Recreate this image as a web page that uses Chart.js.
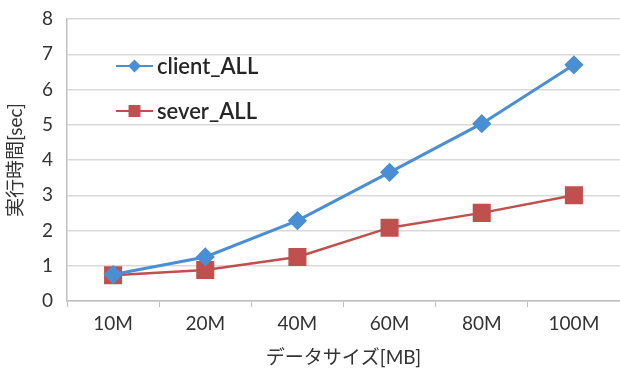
<!DOCTYPE html>
<html lang="ja">
<head>
  <meta charset="UTF-8">
  <title>実行時間</title>
  <script src="https://cdn.jsdelivr.net/npm/chart.js"></script>
  <style>
    html, body { margin: 0; padding: 0; background: #fff; overflow: hidden; }
    canvas { display: block; }
  </style>
</head>
<body>
  <canvas id="timeChart" width="620" height="373"></canvas>

  <script>
    // data
    const sizes = ['10M', '20M', '40M', '60M', '80M', '100M'];
    const clientAll = [0.75, 1.25, 2.28, 3.65, 5.03, 6.7];
    const severAll = [0.73, 0.88, 1.25, 2.08, 2.5, 3.0];
    const yTicks = [0, 1, 2, 3, 4, 5, 6, 7, 8];

    const labelFont = "Lato, 'Noto Sans CJK JP', sans-serif";
    const textColor = '#333333';

    // legend drawn inside the plot, like the Excel original
    const insideLegend = {
      id: 'insideLegend',
      afterDraw(chart) {
        const ctx = chart.ctx;
        chart.data.datasets.forEach((ds, i) => {
          const y = i === 0 ? 66 : 111;
          const x0 = 116, x1 = 153;
          ctx.save();
          ctx.strokeStyle = ds.borderColor;
          ctx.lineWidth = 2;
          ctx.beginPath();
          ctx.moveTo(x0, y);
          ctx.lineTo(x1, y);
          ctx.stroke();
          ctx.fillStyle = ds.backgroundColor;
          ctx.strokeStyle = ds.borderColor;
          Chart.helpers.drawPoint(ctx, {
            pointStyle: ds.pointStyle,
            radius: i === 0 ? 5 : 7,
            borderWidth: 1
          }, (x0 + x1) / 2, y);
          ctx.fillStyle = '#262626';
          ctx.font = "600 22px " + labelFont;
          ctx.textBaseline = 'middle';
          ctx.fillText(ds.label, x1 + 4, y + 1);
          ctx.restore();
        });
      }
    };

    const ctx = document.getElementById('timeChart').getContext('2d');
    new Chart(ctx, {
      type: 'line',
      data: {
        labels: sizes,
        datasets: [{
          label: 'client_ALL',
          data: clientAll,
          borderColor: '#4a8fd4',
          backgroundColor: '#4a8fd4',
          borderWidth: 3,
          pointStyle: 'rectRot',
          pointRadius: 7.5,
          pointHoverRadius: 7.5,
          tension: 0
        }, {
          label: 'sever_ALL',
          data: severAll,
          borderColor: '#c0504d',
          backgroundColor: '#c0504d',
          borderWidth: 2.5,
          pointStyle: 'rect',
          pointRadius: 11,
          pointHoverRadius: 11,
          tension: 0
        }]
      },
      plugins: [insideLegend],
      options: {
        responsive: false,
        animation: false,
        layout: {
          autoPadding: false,
          padding: { top: 19, right: 0, left: 0, bottom: 0 }
        },
        plugins: {
          legend: { display: false },
          tooltip: { enabled: false }
        },
        scales: {
          x: {
            offset: true,
            afterFit(scale) {
              scale.height = 72;
              scale.paddingLeft = 0;
              scale.paddingRight = 0;
            },
            grid: {
              offset: true,
              drawOnChartArea: false,
              drawTicks: true,
              tickLength: 6,
              color: '#bfbfbf'
            },
            border: { color: '#bfbfbf', width: 1.5 },
            ticks: {
              color: textColor,
              font: { family: labelFont, size: 19 },
              padding: 5
            },
            title: {
              display: true,
              text: 'データサイズ[MB]',
              color: textColor,
              font: { family: labelFont, size: 19 },
              padding: { top: 0 }
            }
          },
          y: {
            min: 0,
            max: 8,
            afterFit(scale) {
              scale.width = 67;
              scale.paddingTop = 0;
              scale.paddingBottom = 0;
            },
            afterBuildTicks(scale) {
              scale.ticks = yTicks.map(v => ({ value: v }));
            },
            grid: {
              color: '#d9d9d9',
              lineWidth: 1.5,
              drawTicks: false
            },
            border: { color: '#bfbfbf', width: 1.5 },
            ticks: {
              color: textColor,
              font: { family: labelFont, size: 19 },
              padding: 14
            },
            title: {
              display: true,
              text: '実行時間[sec]',
              color: textColor,
              font: { family: labelFont, size: 19 },
              padding: { bottom: 0 }
            }
          }
        }
      }
    });
  </script>
</body>
</html>
